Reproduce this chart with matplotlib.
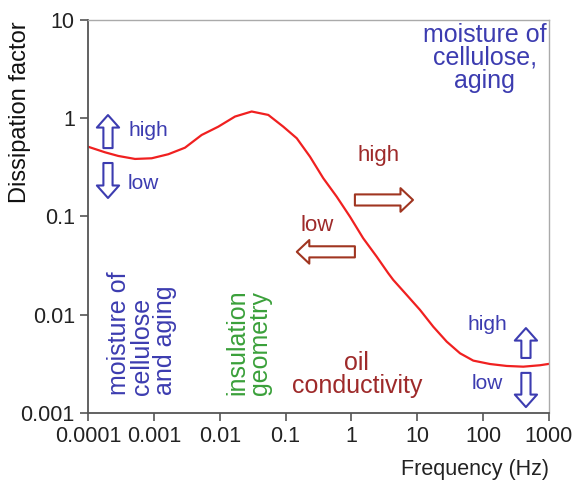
import matplotlib
matplotlib.use("Agg")
from matplotlib import pyplot as plt

plt.rcParams['font.family'] = ['Liberation Sans', 'DejaVu Sans']

# curve (frequency in Hz, dissipation factor)
freq = [1e-4, 1.81e-4, 2.88e-4, 5.18e-4, 9.27e-4, 1.66e-3, 2.97e-3, 5.32e-3,
        9.52e-3, 1.71e-2, 3.06e-2, 5.47e-2, 9.24e-2, 0.148, 0.235, 0.374,
        0.598, 0.951, 1.51, 2.42, 3.63, 4.32, 6.91, 11.0, 17.5, 28.0, 44.6,
        71.0, 127, 228, 407, 729, 1000]
dfac = [0.513, 0.450, 0.413, 0.385, 0.391, 0.430, 0.501, 0.675,
        0.820, 1.04, 1.17, 1.08, 0.820, 0.625, 0.406, 0.245,
        0.159, 0.0995, 0.060, 0.039, 0.0264, 0.0226, 0.0159, 0.0112, 0.00755,
        0.00532, 0.00405, 0.00341, 0.00315, 0.00301, 0.00296, 0.00306, 0.00316]

xticks = [1e-4, 1e-3, 1e-2, 1e-1, 1, 10, 100, 1000]
xtick_labels = ['0.0001', '0.001', '0.01', '0.1', '1', '10', '100', '1000']
yticks = [1e-3, 1e-2, 1e-1, 1, 10]
ytick_labels = ['0.001', '0.01', '0.1', '1', '10']

blue = '#3c3cb0'
dred = '#9e2a2a'
green = '#3aa03a'

fig = plt.figure(figsize=(5.78, 4.82), dpi=100)
ax = fig.add_axes([0.1522, 0.1432, 0.7976, 0.8154])
ax.plot(freq, dfac, color='#f02020', linewidth=1.6)
ax.set_xscale('log')
ax.set_yscale('log')
ax.set_xlim(1e-4, 1000)
ax.set_ylim(1e-3, 10)
ax.set_xticks(xticks)
ax.set_xticklabels(xtick_labels)
ax.set_yticks(yticks)
ax.set_yticklabels(ytick_labels)
ax.minorticks_off()
ax.tick_params(labelsize=15.5, length=6, width=1.2, color='#555555', labelcolor='#222222')

for s in ['left', 'bottom']:
    ax.spines[s].set_color('#555555')
    ax.spines[s].set_linewidth(1.3)
for s in ['top', 'right']:
    ax.spines[s].set_color('#aaaaaa')
    ax.spines[s].set_linewidth(1.0)

ax.set_ylabel('Dissipation factor', fontsize=17, color='#111111', va='center')
ax.yaxis.set_label_coords(-0.1475, 0.765)
fig.text(0.9498, 0.025, 'Frequency (Hz)', fontsize=15.5, ha='right', va='center', color='#222222')


def arrow(x0, y0, x1, y1, col, hw=0.8, tw=0.33, hl=0.45):
    ax.annotate('', xy=(x1, y1), xytext=(x0, y0), xycoords='axes fraction',
                textcoords='axes fraction',
                arrowprops=dict(arrowstyle='simple,head_length=%s,head_width=%s,tail_width=%s' % (hl, hw, tw),
                                fc='white', ec=col, lw=1.5, mutation_scale=20,
                                shrinkA=0, shrinkB=0))


# left side high / low
arrow(0.0434, 0.674, 0.0434, 0.758, blue)
arrow(0.0434, 0.636, 0.0434, 0.547, blue)
ax.text(0.087, 0.72, 'high', transform=ax.transAxes, fontsize=15, color=blue, va='center')
ax.text(0.087, 0.585, 'low', transform=ax.transAxes, fontsize=15, color=blue, va='center')

# oil conductivity arrows
arrow(0.579, 0.542, 0.705, 0.542, '#a03520', hw=0.85, tw=0.4, hl=0.45)
arrow(0.579, 0.41, 0.453, 0.41, '#a03520', hw=0.85, tw=0.4, hl=0.45)
ax.text(0.631, 0.656, 'high', transform=ax.transAxes, fontsize=16, color=dred, ha='center', va='center')
ax.text(0.497, 0.478, 'low', transform=ax.transAxes, fontsize=16, color=dred, ha='center', va='center')

# right side high / low
arrow(0.950, 0.140, 0.950, 0.216, blue)
arrow(0.950, 0.102, 0.950, 0.015, blue)
ax.text(0.866, 0.226, 'high', transform=ax.transAxes, fontsize=15, color=blue, ha='center', va='center')
ax.text(0.866, 0.074, 'low', transform=ax.transAxes, fontsize=15, color=blue, ha='center', va='center')

ax.text(0.861, 0.993, 'moisture of\ncellulose,\naging', transform=ax.transAxes, fontsize=18,
        color=blue, ha='center', va='top', multialignment='center', linespacing=0.95)
ax.text(0.041, 0.046, 'moisture of\ncellulose\nand aging', transform=ax.transAxes, fontsize=18,
        color=blue, ha='left', va='bottom', rotation=90, multialignment='left', linespacing=0.95)
ax.text(0.297, 0.046, 'insulation\ngeometry', transform=ax.transAxes, fontsize=18,
        color=green, ha='left', va='bottom', rotation=90, multialignment='left', linespacing=0.95)
ax.text(0.583, 0.038, 'oil\nconductivity', transform=ax.transAxes, fontsize=18,
        color=dred, ha='center', va='bottom', multialignment='center', linespacing=0.95)

fig.savefig('out.png', dpi=100)
